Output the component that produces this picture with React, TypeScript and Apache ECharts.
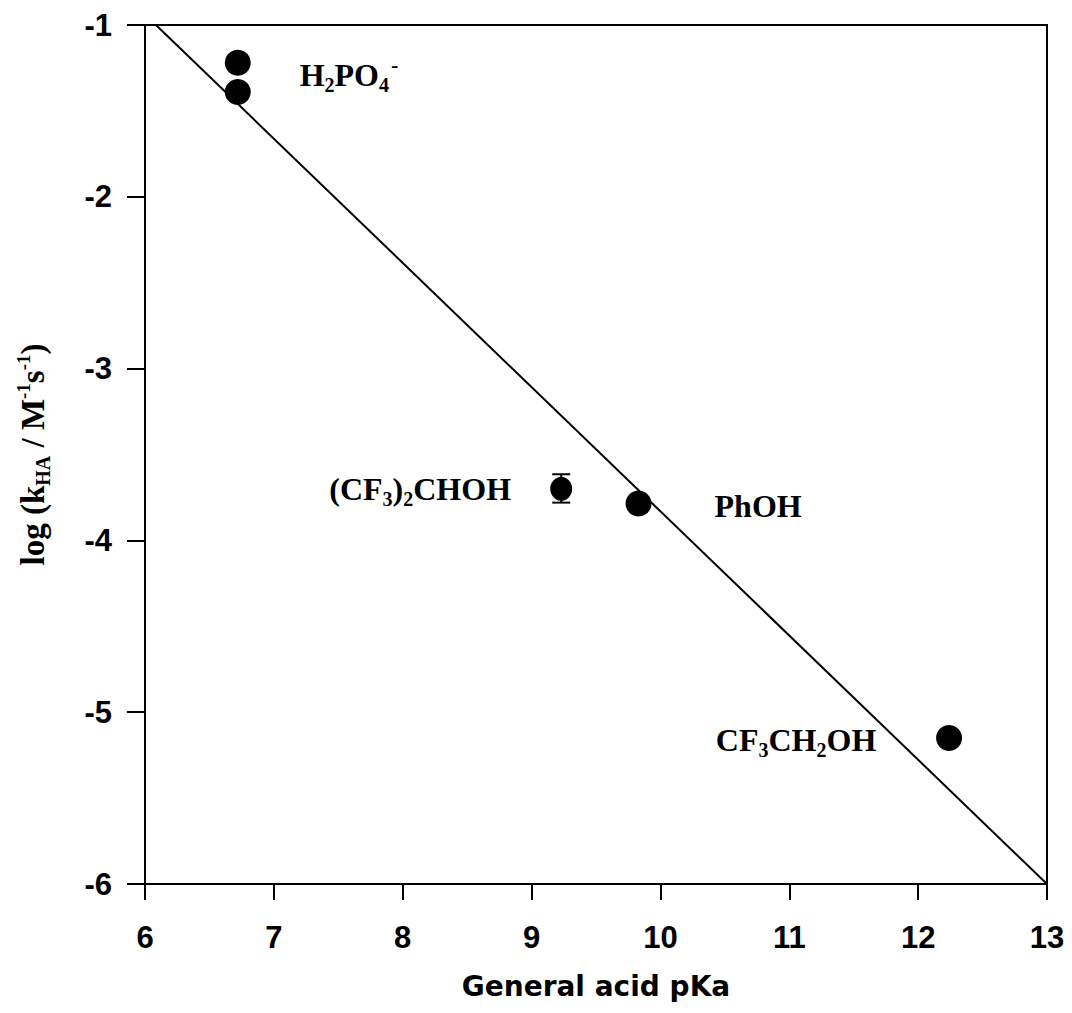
import React, { useEffect, useRef } from "react";
import * as echarts from "echarts";

// Data points (general acid pKa, log kHA)
const pointX = [6.72, 6.72, 9.83, 12.24];
const pointY = [-1.22, -1.39, -3.785, -5.15];

// Point with error bar: (CF3)2CHOH
const errX = [9.23];
const errY = [-3.70];
const errLow = [-3.78];
const errHigh = [-3.615];

// Fitted line
const fitX = [6.085, 13];
const fitY = [-1, -6];

// Annotation labels (anchor at left edge, vertical middle)
const labelTexts = [
  "{m|H}{s|2}{m|PO}{s|4}{p|-}",
  "{m|(CF}{s|3}{m|)}{s|2}{m|CHOH}",
  "{m|PhOH}",
  "{m|CF}{s|3}{m|CH}{s|2}{m|OH}",
];
const labelX = [7.2, 7.43, 10.42, 10.43];
const labelY = [-1.29, -3.7, -3.8, -5.16];

const xTicks = [6, 7, 8, 9, 10, 11, 12, 13];
const yTicks = [-6, -5, -4, -3, -2, -1];

export default function App() {
  const ref = useRef<HTMLDivElement>(null);
  useEffect(() => {
    document.body.style.margin = "0";
    const chart = echarts.init(ref.current!, null, { renderer: "svg" });
    const serif = "'Liberation Serif', 'Times New Roman', serif";
    const sans = "'Liberation Sans', Arial, sans-serif";
    const rich = {
      m: { fontFamily: serif, fontWeight: "bold", fontSize: 32, color: "#000", lineHeight: 40 },
      s: { fontFamily: serif, fontWeight: "bold", fontSize: 20, color: "#000", padding: [20, 0, 0, 0], lineHeight: 40 },
      p: { fontFamily: serif, fontWeight: "bold", fontSize: 22, color: "#000", padding: [0, 0, 20, 2], lineHeight: 40 },
    };
    chart.setOption({
      animation: false,
      backgroundColor: "#fff",
      grid: {
        left: 145,
        right: 25,
        top: 25,
        bottom: 129,
        show: true,
        borderColor: "#000",
        borderWidth: 2,
        backgroundColor: "transparent",
      },
      xAxis: {
        type: "value",
        min: xTicks[0],
        max: xTicks[xTicks.length - 1],
        interval: 1,
        name: "General acid pKa",
        nameLocation: "middle",
        nameGap: 88,
        nameTextStyle: { fontFamily: "'DejaVu Sans', sans-serif", fontWeight: "bold", fontSize: 28, color: "#000" },
        axisLine: { show: true, lineStyle: { color: "#000", width: 2 } },
        axisTick: { show: true, length: 16, lineStyle: { color: "#000", width: 2 } },
        axisLabel: { fontFamily: sans, fontWeight: "bold", fontSize: 31, color: "#000", margin: 38 },
        splitLine: { show: false },
      },
      yAxis: {
        type: "value",
        min: yTicks[0],
        max: yTicks[yTicks.length - 1],
        interval: 1,
        name: "{m|log (k}{s|HA}{m| / M}{p|-1}{m|s}{p|-1}{m|)}",
        nameLocation: "middle",
        nameRotate: 90,
        nameGap: 92,
        nameTextStyle: {
          rich: {
            m: { fontFamily: serif, fontWeight: "bold", fontSize: 33, color: "#000", lineHeight: 40 },
            s: { fontFamily: serif, fontWeight: "bold", fontSize: 20, color: "#000", padding: [20, 0, 0, 0], lineHeight: 40 },
            p: { fontFamily: serif, fontWeight: "bold", fontSize: 19, color: "#000", padding: [0, 0, 20, 0], lineHeight: 40 },
          },
        },
        axisLine: { show: true, lineStyle: { color: "#000", width: 2 } },
        axisTick: { show: true, length: 18, lineStyle: { color: "#000", width: 2 } },
        axisLabel: { fontFamily: sans, fontWeight: "bold", fontSize: 31, color: "#000", margin: 33 },
        splitLine: { show: false },
      },
      series: [
        {
          type: "line",
          data: fitX.map((x, i) => [x, fitY[i]]),
          symbol: "none",
          lineStyle: { color: "#000", width: 2 },
          z: 2,
        },
        {
          type: "scatter",
          data: pointX.map((x, i) => [x, pointY[i]]),
          symbol: "circle",
          symbolSize: 26,
          itemStyle: { color: "#000", opacity: 1 },
          z: 3,
        },
        {
          type: "scatter",
          data: errX.map((x, i) => [x, errY[i]]),
          symbol: "circle",
          symbolSize: [22, 24],
          itemStyle: { color: "#000", opacity: 1 },
          z: 3,
        },
        {
          type: "custom",
          data: errX.map((x, i) => [x, errLow[i], errHigh[i]]),
          renderItem: (params: any, api: any) => {
            const x = api.value(0);
            const lo = api.coord([x, api.value(1)]);
            const hi = api.coord([x, api.value(2)]);
            const hw = 9;
            const st = { stroke: "#000", lineWidth: 2 };
            return {
              type: "group",
              children: [
                { type: "line", shape: { x1: lo[0], y1: lo[1], x2: hi[0], y2: hi[1] }, style: st },
                { type: "line", shape: { x1: lo[0] - hw, y1: lo[1], x2: lo[0] + hw, y2: lo[1] }, style: st },
                { type: "line", shape: { x1: hi[0] - hw, y1: hi[1], x2: hi[0] + hw, y2: hi[1] }, style: st },
              ],
            };
          },
          z: 3,
        },
        {
          type: "scatter",
          data: labelX.map((x, i) => ({ value: [x, labelY[i]], name: labelTexts[i] })),
          symbolSize: 0,
          silent: true,
          itemStyle: { opacity: 1 },
          label: {
            show: true,
            position: "right",
            distance: 0,
            color: "#000",
            formatter: (p: any) => p.name,
            rich,
          },
          z: 4,
        },
      ],
    });
    return () => chart.dispose();
  }, []);
  return <div ref={ref} style={{ width: 1072, height: 1013 }} />;
}
